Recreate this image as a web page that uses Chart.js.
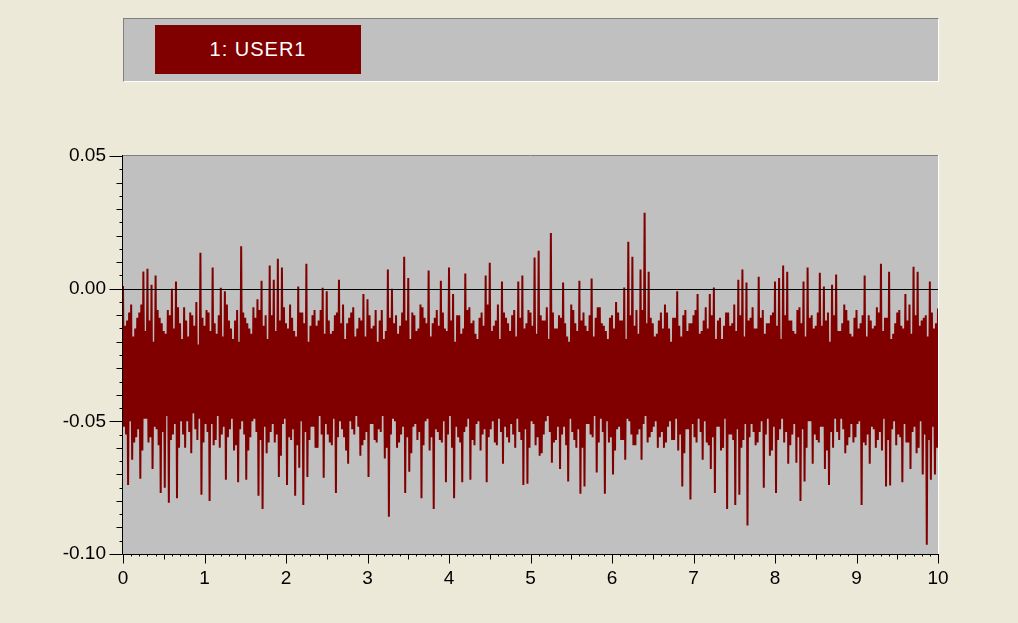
<!DOCTYPE html>
<html>
<head>
<meta charset="utf-8">
<script src="https://cdn.jsdelivr.net/npm/chart.js@4"></script>
<style>
  body { margin: 0; background: #ECE9D8; width: 1018px; height: 623px; overflow: hidden; position: relative; }
  #panel {
    position: absolute; left: 123px; top: 18px; width: 814px; height: 62px;
    background: #C0C0C0;
    border-top: 1px solid #808080; border-left: 1px solid #808080;
    border-bottom: 1px solid #fff; border-right: 1px solid #fff;
  }
  #tag {
    position: absolute; left: 31px; top: 6px; width: 206px; height: 49px;
    background: #800000; color: #fff;
    font: 20px "Liberation Sans", Arial, sans-serif; letter-spacing: 1px;
    line-height: 49px; text-align: center;
  }
  #c { position: absolute; left: 0; top: 0; }
</style>
</head>
<body>
<div id="panel"><div id="tag">1: USER1</div></div>
<canvas id="c" width="1018" height="623"></canvas>
<script>
// tall peaks / troughs (every 0.05 s)
const highs = [
  0.001, -0.012, -0.006, -0.015, -0.009, 0.0065, 0.0075, 0.0015, 0.005, -0.011,
  -0.016, -0.008, 0.0, 0.0027, -0.013, -0.007, -0.018, -0.010, -0.005, 0.0135,
  -0.014, -0.009, 0.008, -0.017, 0.0003, -0.001, -0.012, -0.019, -0.008, 0.016,
  -0.011, -0.015, -0.007, -0.004, 0.003, -0.010, 0.0087, 0.0034, 0.0113, 0.008,
  -0.013, -0.006, -0.016, 0.0008, -0.009, 0.0094, -0.014, -0.008, -0.012, 0.0003,
  -0.001, -0.017, -0.010, 0.0034, -0.006, -0.013, -0.009, -0.018, -0.011, -0.002,
  -0.004, -0.015, -0.008, -0.012, -0.019, 0.0072, 0.0, -0.010, -0.014, 0.012,
  0.004, -0.009, -0.016, -0.006, -0.011, 0.0068, -0.013, -0.008, 0.003, -0.015,
  0.008, -0.002, -0.010, -0.017, 0.0057, -0.007, -0.012, -0.019, -0.009, 0.005,
  0.0098, -0.014, -0.006, 0.0027, -0.011, -0.016, -0.008, 0.0027, 0.005, -0.013,
  -0.009, 0.0117, 0.0143, -0.012, -0.007, 0.021, -0.015, -0.010, 0.0023, -0.018,
  -0.006, -0.013, 0.003, -0.009, -0.016, 0.0038, -0.011, -0.007, -0.014, -0.019,
  -0.010, -0.005, -0.012, 0.0004, 0.0177, 0.012, -0.008, 0.0072, 0.0286, 0.0064,
  -0.013, -0.017, -0.009, -0.006, -0.015, -0.011, -0.001, -0.018, -0.008, -0.013,
  -0.010, -0.002, -0.016, -0.007, -0.002, 0.0004, -0.012, -0.019, -0.009, -0.014,
  -0.006, 0.0034, 0.0072, 0.0023, -0.011, -0.015, 0.0045, -0.008, -0.013, -0.010,
  0.0027, 0.004, 0.0087, 0.0064, -0.012, -0.017, -0.007, 0.0027, 0.008, -0.010,
  -0.014, 0.006, 0.0008, -0.009, 0.0015, 0.0053, -0.016, -0.006, -0.012, -0.018,
  -0.008, -0.013, 0.005, -0.010, -0.015, -0.007, 0.0094, -0.011, 0.0064, -0.017,
  -0.009, -0.014, -0.002, -0.006, 0.0083, 0.0064, -0.012, -0.010, 0.0027, -0.015,
  -0.0075
];
const lows = [
  -0.052, -0.074, -0.0645, -0.056, -0.0716, -0.049, -0.058, -0.068, -0.053, -0.077,
  -0.075, -0.0807, -0.055, -0.079, -0.050, -0.060, -0.054, -0.047, -0.057, -0.0777,
  -0.051, -0.080, -0.059, -0.048, -0.055, -0.072, -0.053, -0.061, -0.073, -0.050,
  -0.072, -0.056, -0.049, -0.078, -0.083, -0.062, -0.054, -0.058, -0.071, -0.051,
  -0.074, -0.057, -0.078, -0.0675, -0.0815, -0.071, -0.052, -0.060, -0.048, -0.0713,
  -0.055, -0.059, -0.077, -0.050, -0.056, -0.066, -0.053, -0.048, -0.063, -0.057,
  -0.071, -0.051, -0.058, -0.054, -0.064, -0.086, -0.049, -0.060, -0.055, -0.077,
  -0.069, -0.052, -0.057, -0.079, -0.050, -0.061, -0.083, -0.054, -0.058, -0.073,
  -0.048, -0.079, -0.056, -0.073, -0.052, -0.072, -0.059, -0.050, -0.055, -0.073,
  -0.053, -0.058, -0.049, -0.066, -0.056, -0.051, -0.060, -0.054, -0.074, -0.0735,
  -0.050, -0.059, -0.063, -0.055, -0.048, -0.0656, -0.057, -0.068, -0.052, -0.0727,
  -0.054, -0.060, -0.0773, -0.0746, -0.051, -0.056, -0.0693, -0.049, -0.0773, -0.058,
  -0.070, -0.053, -0.057, -0.0645, -0.050, -0.059, -0.055, -0.0645, -0.048, -0.056,
  -0.052, -0.060, -0.054, -0.058, -0.050, -0.057, -0.061, -0.0746, -0.053, -0.0795,
  -0.056, -0.049, -0.0645, -0.058, -0.068, -0.077, -0.052, -0.060, -0.083, -0.055,
  -0.0815, -0.0777, -0.057, -0.0893, -0.051, -0.059, -0.054, -0.075, -0.049, -0.061,
  -0.077, -0.053, -0.058, -0.066, -0.055, -0.0656, -0.080, -0.0727, -0.050, -0.066,
  -0.057, -0.052, -0.068, -0.074, -0.060, -0.054, -0.049, -0.062, -0.056, -0.058,
  -0.051, -0.0815, -0.059, -0.066, -0.053, -0.057, -0.061, -0.0746, -0.0742, -0.050,
  -0.055, -0.073, -0.058, -0.068, -0.052, -0.060, -0.070, -0.0965, -0.072, -0.070
];
// the in-between samples that make up the dense core of the trace
const midHighs = [
  -0.014, -0.009, -0.018, -0.011, -0.006, -0.016, -0.012, -0.020, -0.008, -0.013,
  -0.017, -0.010, -0.015, -0.007, -0.019, -0.012, -0.009, -0.014, -0.021, -0.011,
  -0.008, -0.016, -0.013, -0.010, -0.018, -0.006, -0.015, -0.012, -0.020, -0.009,
  -0.013, -0.017, -0.011, -0.008, -0.014, -0.019, -0.010, -0.016, -0.012, -0.007,
  -0.015, -0.011, -0.018, -0.009, -0.013, -0.020, -0.010, -0.014, -0.008, -0.017,
  -0.012, -0.016, -0.009, -0.013, -0.019, -0.011, -0.007, -0.015, -0.012, -0.018,
  -0.010, -0.014, -0.020, -0.008, -0.016, -0.011, -0.013, -0.017, -0.009, -0.012,
  -0.019, -0.010, -0.015, -0.007, -0.013, -0.018, -0.011, -0.014, -0.009, -0.016,
  -0.012, -0.020, -0.010, -0.015, -0.008, -0.013, -0.017, -0.011, -0.014, -0.006,
  -0.016, -0.012, -0.019, -0.009, -0.013, -0.010, -0.018, -0.011, -0.015, -0.008,
  -0.014, -0.017, -0.010, -0.012, -0.019, -0.009, -0.015, -0.011, -0.013, -0.020,
  -0.008, -0.016, -0.012, -0.014, -0.010, -0.018, -0.007, -0.013, -0.016, -0.011,
  -0.015, -0.009, -0.012, -0.019, -0.010, -0.014, -0.017, -0.008, -0.013, -0.011,
  -0.018, -0.012, -0.015, -0.009, -0.020, -0.011, -0.014, -0.010, -0.016, -0.013,
  -0.008, -0.017, -0.012, -0.015, -0.010, -0.019, -0.011, -0.014, -0.009, -0.013,
  -0.016, -0.010, -0.018, -0.012, -0.007, -0.015, -0.011, -0.017, -0.013, -0.009,
  -0.014, -0.019, -0.010, -0.012, -0.016, -0.008, -0.013, -0.018, -0.011, -0.015,
  -0.009, -0.014, -0.012, -0.020, -0.010, -0.016, -0.013, -0.008, -0.017, -0.011,
  -0.015, -0.010, -0.018, -0.012, -0.014, -0.009, -0.016, -0.011, -0.019, -0.013,
  -0.008, -0.015, -0.012, -0.017, -0.010, -0.014, -0.011, -0.018, -0.009, -0.013
];
const midLows = [
  -0.055, -0.050, -0.058, -0.053, -0.061, -0.049, -0.056, -0.052, -0.059, -0.054,
  -0.048, -0.057, -0.051, -0.060, -0.055, -0.050, -0.062, -0.053, -0.049, -0.058,
  -0.054, -0.051, -0.057, -0.060, -0.052, -0.056, -0.049, -0.059, -0.053, -0.055,
  -0.061, -0.050, -0.054, -0.057, -0.052, -0.058, -0.051, -0.055, -0.063, -0.049,
  -0.056, -0.053, -0.059, -0.050, -0.054, -0.057, -0.052, -0.060, -0.055, -0.051,
  -0.058, -0.049, -0.056, -0.053, -0.061, -0.050, -0.055, -0.052, -0.059, -0.054,
  -0.051, -0.057, -0.053, -0.048, -0.060, -0.055, -0.050, -0.058, -0.052, -0.056,
  -0.062, -0.051, -0.054, -0.059, -0.049, -0.056, -0.053, -0.057, -0.050, -0.055,
  -0.060, -0.052, -0.058, -0.054, -0.049, -0.057, -0.051, -0.061, -0.053, -0.056,
  -0.050, -0.059, -0.054, -0.052, -0.058, -0.055, -0.049, -0.057, -0.053, -0.060,
  -0.051, -0.056, -0.062, -0.050, -0.054, -0.058, -0.052, -0.055, -0.059, -0.049,
  -0.057, -0.053, -0.060, -0.051, -0.055, -0.048, -0.058, -0.054, -0.050, -0.056,
  -0.061, -0.052, -0.057, -0.049, -0.055, -0.059, -0.053, -0.051, -0.058, -0.054,
  -0.050, -0.056, -0.060, -0.052, -0.057, -0.049, -0.055, -0.062, -0.053, -0.051,
  -0.058, -0.054, -0.050, -0.059, -0.056, -0.052, -0.061, -0.049, -0.055, -0.057,
  -0.053, -0.060, -0.051, -0.056, -0.054, -0.058, -0.050, -0.055, -0.063, -0.052,
  -0.057, -0.049, -0.054, -0.059, -0.051, -0.056, -0.053, -0.060, -0.050, -0.055,
  -0.058, -0.052, -0.061, -0.054, -0.049, -0.057, -0.053, -0.059, -0.051, -0.056,
  -0.050, -0.058, -0.055, -0.052, -0.060, -0.054, -0.049, -0.057, -0.053, -0.059,
  -0.056, -0.051, -0.058, -0.054, -0.062, -0.050, -0.055, -0.057, -0.052, -0.060
];
const sampleStep = 0.0125;   // seconds between samples
const xTicks = [0, 1, 2, 3, 4, 5, 6, 7, 8, 9, 10];
const yTicks = [-0.10, -0.05, 0.00, 0.05];

// tops on even samples, bottoms on odd samples
const points = [];
for (let k = 0; k <= 800; k++) {
  let y;
  if (k % 2 === 0) {
    const t = k / 2;
    y = t % 2 === 0 ? highs[t / 2] : midHighs[(t - 1) / 2];
  } else {
    const b = (k - 1) / 2;
    y = b % 2 === 0 ? lows[b / 2] : midLows[(b - 1) / 2];
  }
  points.push({ x: k * sampleStep, y: y });
}

const crisp = v => Math.round(v) + 0.5;

// gray plot background, frame, tick marks and zero line like the old scope view
const scopeFrame = {
  id: 'scopeFrame',
  beforeDatasetsDraw(chart) {
    const { ctx, chartArea: a } = chart;
    ctx.save();
    ctx.fillStyle = '#C0C0C0';
    ctx.fillRect(a.left, a.top, a.right - a.left, a.bottom - a.top);
    ctx.restore();
  },
  afterDatasetsDraw(chart) {
    const { ctx, chartArea: a, scales } = chart;
    const xs = scales.x, ys = scales.y;
    ctx.save();
    ctx.lineWidth = 1;

    // frame
    ctx.strokeStyle = '#808080';
    ctx.beginPath(); ctx.moveTo(a.left, crisp(a.top - 1)); ctx.lineTo(a.right, crisp(a.top - 1)); ctx.stroke();
    ctx.strokeStyle = '#ffffff';
    ctx.beginPath(); ctx.moveTo(crisp(a.right), a.top - 1); ctx.lineTo(crisp(a.right), a.bottom); ctx.stroke();

    // zero line
    const y0 = crisp(ys.getPixelForValue(0));
    ctx.strokeStyle = '#000';
    ctx.beginPath(); ctx.moveTo(a.left, y0); ctx.lineTo(a.right, y0); ctx.stroke();

    // axes
    const ax = crisp(a.left - 1), ay = crisp(a.bottom);
    ctx.beginPath(); ctx.moveTo(ax, a.top - 1); ctx.lineTo(ax, ay); ctx.lineTo(a.right + 1, ay); ctx.stroke();

    // y tick marks: 0.005 minor, 0.01 medium, 0.05 major
    for (let i = 0; i <= 30; i++) {
      const py = crisp(ys.getPixelForValue(-0.1 + i * 0.005));
      const len = i % 10 === 0 ? 13 : (i % 2 === 0 ? 6 : 3);
      ctx.beginPath(); ctx.moveTo(ax - len, py); ctx.lineTo(ax, py); ctx.stroke();
    }
    // x tick marks: 0.1 minor dots, 0.5 medium, 1 major
    for (let i = 0; i <= 100; i++) {
      const px = crisp(xs.getPixelForValue(i * 0.1));
      const len = i % 10 === 0 ? 9 : (i % 5 === 0 ? 5 : 2);
      ctx.beginPath(); ctx.moveTo(px, ay); ctx.lineTo(px, ay + len); ctx.stroke();
    }
    ctx.restore();
  }
};

const axisFont = { family: '"Liberation Sans", Arial, sans-serif', size: 19 };

new Chart(document.getElementById('c').getContext('2d'), {
  type: 'line',
  data: {
    datasets: [{
      label: '1: USER1',
      data: points,
      borderColor: '#800000',
      borderWidth: 2,
      pointRadius: 0,
      tension: 0,
      fill: false
    }]
  },
  options: {
    responsive: false,
    animation: false,
    layout: { padding: { top: 156, right: 80, left: 0, bottom: 0 } },
    plugins: { legend: { display: false }, tooltip: { enabled: false } },
    scales: {
      x: {
        type: 'linear', min: 0, max: 10,
        afterFit: s => { s.height = 69; },
        afterBuildTicks: s => { s.ticks = xTicks.map(v => ({ value: v })); },
        grid: { display: false, drawTicks: false },
        border: { display: false },
        ticks: { color: '#000', font: axisFont, padding: 13, maxRotation: 0,
                 callback: v => String(v) }
      },
      y: {
        type: 'linear', min: -0.10, max: 0.05,
        afterFit: s => { s.width = 123; },
        afterBuildTicks: s => { s.ticks = yTicks.map(v => ({ value: v })); },
        grid: { display: false, drawTicks: false },
        border: { display: false },
        ticks: { color: '#000', font: axisFont, padding: 17,
                 callback: v => (Math.abs(v) < 1e-9 ? 0 : v).toFixed(2) }
      }
    }
  },
  plugins: [scopeFrame]
});
</script>
</body>
</html>
